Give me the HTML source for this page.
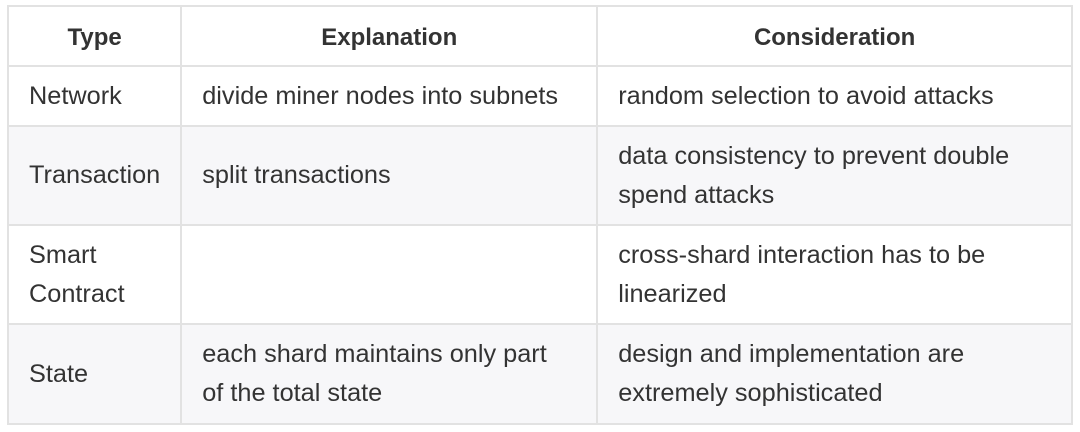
<!DOCTYPE html>
<html><head><style>
html,body{margin:0;padding:0;background:#fff;width:1080px;height:432px;overflow:hidden}
table{position:absolute;left:7px;top:5px;width:1066px;border-collapse:collapse;font-family:"Liberation Sans",sans-serif;font-size:25.3px;color:#333;white-space:nowrap}
td,th{border:2px solid #e2e2e2;padding:0 20px;line-height:39px;text-align:left;vertical-align:middle}
th{text-align:center;font-weight:bold;height:56px;font-size:24px;padding:2px 20px 0}
tr.g td{background:#f7f7f9}
</style></head><body>
<table>
<colgroup><col style="width:172px"><col style="width:416px"><col></colgroup>
<tr><th>Type</th><th>Explanation</th><th>Consideration</th></tr>
<tr style="height:60px"><td>Network</td><td>divide miner nodes into subnets</td><td>random selection to avoid attacks</td></tr>
<tr class="g" style="height:99px"><td>Transaction</td><td>split transactions</td><td>data consistency to prevent double<br>spend attacks</td></tr>
<tr style="height:99px"><td>Smart<br>Contract</td><td></td><td>cross-shard interaction has to be<br>linearized</td></tr>
<tr class="g" style="height:100px"><td>State</td><td>each shard maintains only part<br>of the total state</td><td>design and implementation are<br>extremely sophisticated</td></tr>
</table>
</body></html>
